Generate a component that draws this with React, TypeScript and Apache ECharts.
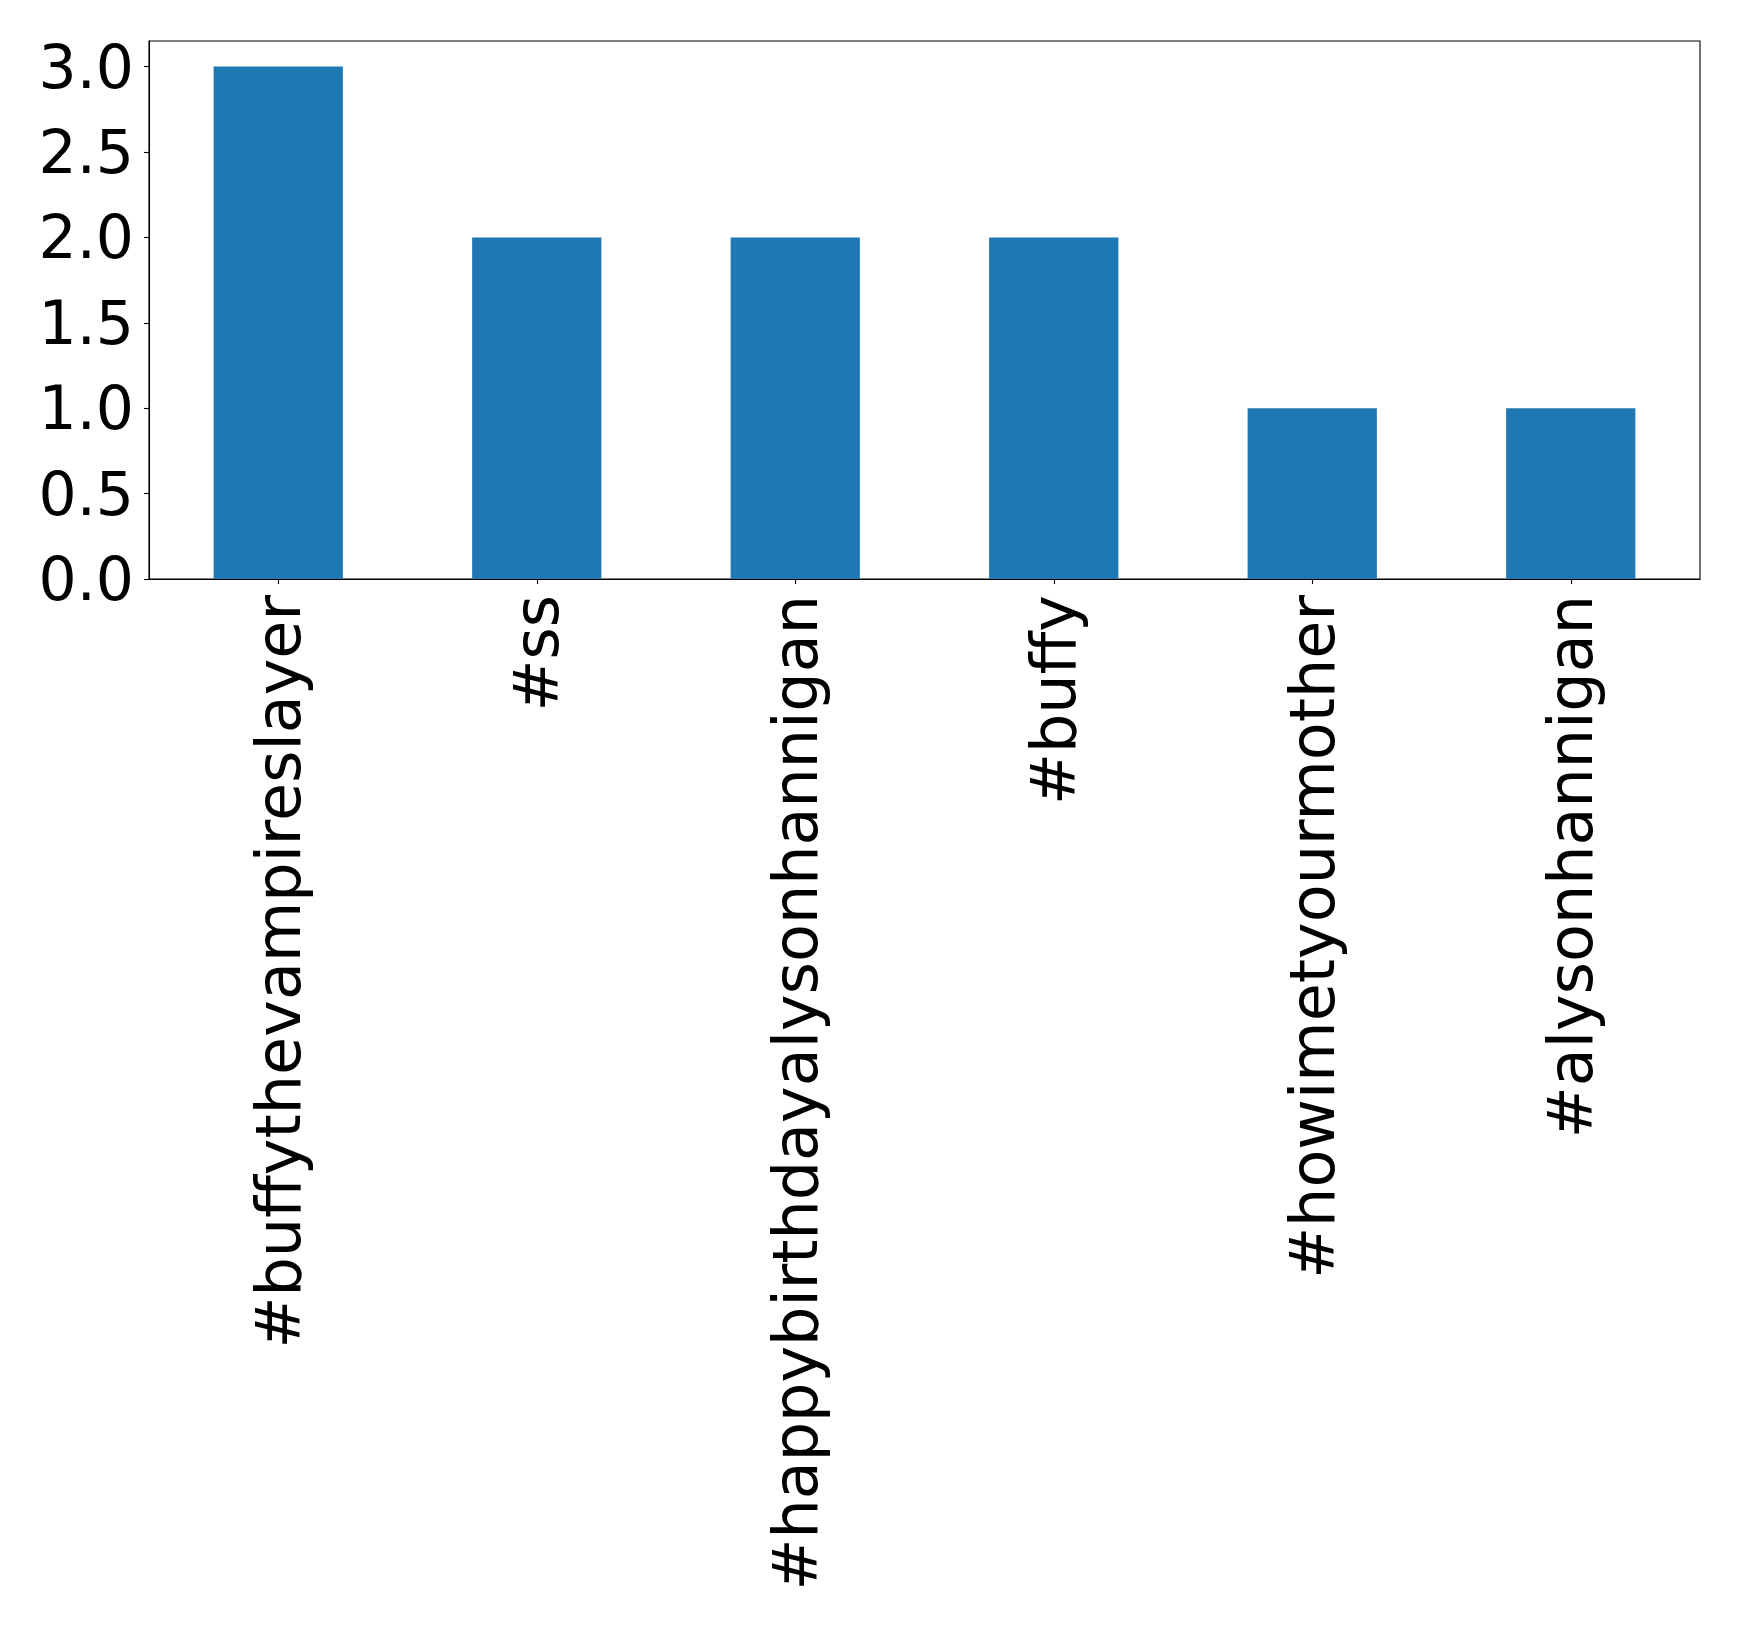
import React, { useEffect, useRef } from 'react';
import * as echarts from 'echarts';

const hashtags = [
  '#buffythevampireslayer',
  '#ss',
  '#happybirthdayalysonhannigan',
  '#buffy',
  '#howimetyourmother',
  '#alysonhannigan',
];
const counts = [3, 2, 2, 2, 1, 1];
const yTicks = [0, 0.5, 1, 1.5, 2, 2.5, 3];

const FONT = "'DejaVu Sans', sans-serif";

const App: React.FC = () => {
  const chartRef = useRef<HTMLDivElement>(null);

  useEffect(() => {
    if (!chartRef.current) return;
    document.body.style.margin = '0';

    const chart = echarts.init(chartRef.current, undefined, { renderer: 'svg' });

    const option: echarts.EChartsOption = {
      animation: false,
      backgroundColor: '#ffffff',
      grid: {
        left: 149,
        top: 41,
        right: 39,
        bottom: 1052,
        show: true,
        borderColor: '#000000',
        borderWidth: 1.1,
        backgroundColor: 'transparent',
      },
      xAxis: {
        type: 'category',
        data: hashtags,
        boundaryGap: true,
        axisLine: { show: true, lineStyle: { color: '#000000', width: 1.1 } },
        axisTick: { show: true, alignWithLabel: true, length: 5, lineStyle: { color: '#000000', width: 1.1 } },
        axisLabel: {
          rotate: 90,
          margin: 16,
          fontSize: 62,
          fontFamily: FONT,
          color: '#000000',
          interval: 0,
        },
        splitLine: { show: false },
      },
      yAxis: {
        type: 'value',
        min: 0,
        max: 3.15,
        axisLine: { show: true, lineStyle: { color: '#000000', width: 1.1 } },
        axisTick: {
          show: true,
          length: 5,
          lineStyle: { color: '#000000', width: 1.1 },
          customValues: yTicks,
        } as any,
        axisLabel: {
          margin: 15,
          fontSize: 60,
          fontFamily: FONT,
          color: '#000000',
          customValues: yTicks,
          formatter: (v: number) => v.toFixed(1),
        } as any,
        splitLine: { show: false },
      },
      series: [
        {
          type: 'bar',
          data: counts,
          barWidth: '50%',
          itemStyle: { color: '#1f77b4' },
        },
      ],
    };

    chart.setOption(option);

    return () => {
      chart.dispose();
    };
  }, []);

  return <div ref={chartRef} style={{ width: '1739px', height: '1631px' }} />;
};

export default App;
